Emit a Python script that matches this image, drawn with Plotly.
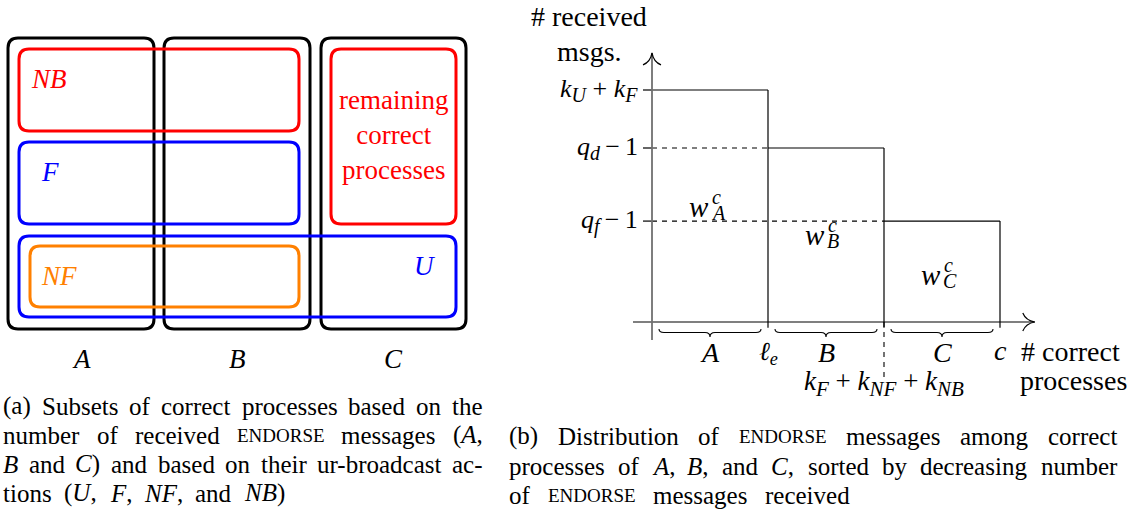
import re
import plotly.graph_objects as go

W, H = 1136, 521
SERIF = "Liberation Serif"
SP = "\u2005"   # medium math space
TH = "\u2009"   # thin space


def sub(t, size=21):
    return f"<sub><span style='font-size:{size}px'><i>{t}</i></span></sub>"


# ---------------- data: left panel (sets of correct processes) ----------------
col_names = ["A", "B", "C"]
set_names = ["NB", "F", "U", "NF", "remaining"]
set_labels = ["<i>NB</i>", "<i>F</i>", "<i>U</i>", "<i>NF</i>", "remaining<br>correct<br>processes"]
set_colors = ["#ff0000", "#0000ff", "#0000ff", "#ff8000", "#ff0000"]

# ---------------- data: right panel (step distribution) ----------------
step_edges = [0, 1, 2, 3]            # boundaries on "# correct processes" axis
step_levels = [4.0, 3.0, 1.74]       # "# received msgs." per group
level_labels = [f"<i>k</i>{sub('U', 20)}{SP}+{SP}<i>k</i>{sub('F', 20)}",
                f"<i>q</i>{sub('d', 20)}{TH}\u2212{TH}1",
                f"<i>q</i>{sub('f', 20)}{TH}\u2212{TH}1"]
group_names = ["A", "B", "C"]
weight_sub = ["A", "B", "C"]
edge_labels = ["<i>\u2113</i><sub><i>e</i></sub>",
               f"<i>k</i>{sub('F')}{SP}+{SP}<i>k</i>{sub('NF')}{SP}+{SP}<i>k</i>{sub('NB')}",
               "<i>c</i>"]

caption_a = ["(a) Subsets of correct processes based on the",
             "number of received {ENDORSE} messages (*A*,",
             "*B* and *C*) and based on their ur-broadcast ac-",
             "tions (*U*, *F*, *NF*, and *NB*)"]
caption_b = ["(b) Distribution of {ENDORSE} messages among correct",
             "processes of *A*, *B*, and *C*, sorted by decreasing number",
             "of {ENDORSE} messages received"]

# ---------------- layout geometry (pixels) ----------------
col_x0 = [8, 164, 321]
col_x1 = [154, 310, 466]
col_y0, col_y1 = 38, 329
set_x0 = [19, 19, 19, 30, 331]
set_x1 = [299, 299, 456, 299, 456]
set_y0 = [49, 142, 236, 246, 49]
set_y1 = [131, 224, 317, 307, 224]
set_lab_x = [30, 40, 436, 40, 393]
set_lab_y = [79, 172, 266, 276, 135]
set_lab_anchor = ["left", "left", "right", "left", "center"]

# right panel axis mapping: data -> pixel
X0PX, UX = 652, 116.0
Y0PX, UY = 322, 58.0
x2_range = [-1.0, 4.0]
y2_range = [-3.0, 5.5]
def px_x(v): return X0PX + v * UX
def px_y(v): return Y0PX - v * UY
x2_dom = [px_x(x2_range[0]) / W, px_x(x2_range[1]) / W]
y2_dom = [(H - px_y(y2_range[0])) / H, (H - px_y(y2_range[1])) / H]
dxu = 1.0 / UX   # one pixel in x2 units
dyu = 1.0 / UY   # one pixel in y2 units


def rrect(x0, y0, x1, y1, r=10):
    return (f"M{x0+r},{y0} L{x1-r},{y0} Q{x1},{y0} {x1},{y0+r} L{x1},{y1-r} "
            f"Q{x1},{y1} {x1-r},{y1} L{x0+r},{y1} Q{x0},{y1} {x0},{y1-r} "
            f"L{x0},{y0+r} Q{x0},{y0} {x0+r},{y0} Z")


shapes = []
annotations = []


def txt(x, y, text, size, xanchor="center", color="black", xref="x", yref="y", **kw):
    annotations.append(dict(xref=xref, yref=yref, x=x, y=y, text=text, showarrow=False,
                            xanchor=xanchor, yanchor="middle", borderpad=0, align="center",
                            font=dict(family=SERIF, size=size, color=color), **kw))


# ---- left panel: column boxes A, B, C
for i, n in enumerate(col_names):
    shapes.append(dict(type="path", xref="x", yref="y",
                       path=rrect(col_x0[i], col_y0, col_x1[i], col_y1),
                       line=dict(color="black", width=3)))
    txt((col_x0[i] + col_x1[i]) / 2, 359, f"<i>{n}</i>", 27)
# ---- left panel: set boxes
for i, n in enumerate(set_names):
    shapes.append(dict(type="path", xref="x", yref="y",
                       path=rrect(set_x0[i], set_y0[i], set_x1[i], set_y1[i]),
                       line=dict(color=set_colors[i], width=3)))
    txt(set_lab_x[i], set_lab_y[i], set_labels[i], 27, xanchor=set_lab_anchor[i], color=set_colors[i])

# ---- right panel: steps
traces = []
xs, ys = [], []
tick_below = -0.1
for i in range(len(step_levels)):
    xs += [step_edges[i], step_edges[i + 1], None, step_edges[i + 1], step_edges[i + 1], None]
    ys += [step_levels[i], step_levels[i], None, step_levels[i], tick_below, None]
    xs += [-9 * dxu, 0, None]
    ys += [step_levels[i], step_levels[i], None]
traces.append(go.Scatter(x=xs, y=ys, xaxis="x2", yaxis="y2", mode="lines",
                         line=dict(color="black", width=1.2), hoverinfo="skip"))
# dashed guides
dx_, dy_ = [], []
for i in range(1, len(step_levels)):
    dx_ += [0, step_edges[i], None]
    dy_ += [step_levels[i], step_levels[i], None]
dx_ += [step_edges[2], step_edges[2], None]
dy_ += [0, -1.0, None]
traces.append(go.Scatter(x=dx_, y=dy_, xaxis="x2", yaxis="y2", mode="lines",
                         line=dict(color="black", width=1.1, dash="5px,5px"), hoverinfo="skip"))

# axes with arrows
x_ax_end = 3.30
y_ax_end = 4.64
traces.append(go.Scatter(x=[-19 * dxu, x_ax_end], y=[0, 0], xaxis="x2", yaxis="y2", mode="lines",
                         line=dict(color="black", width=1.2), hoverinfo="skip"))
traces.append(go.Scatter(x=[0, 0], y=[-18 * dyu, y_ax_end], xaxis="x2", yaxis="y2", mode="lines",
                         line=dict(color="#707070", width=1.8), hoverinfo="skip"))
# arrow heads (open, curved)
tx, ty = x_ax_end, 0
shapes.append(dict(type="path", xref="x2", yref="y2", line=dict(color="black", width=1.2),
                   path=(f"M{tx-12*dxu},{ty+9*dyu} Q{tx-9*dxu},{ty+1.5*dyu} {tx},{ty} "
                         f"Q{tx-9*dxu},{ty-1.5*dyu} {tx-12*dxu},{ty-9*dyu}")))
tx, ty = 0, y_ax_end
shapes.append(dict(type="path", xref="x2", yref="y2", line=dict(color="black", width=1.2),
                   path=(f"M{tx-9*dxu},{ty-12*dyu} Q{tx-1.5*dxu},{ty-9*dyu} {tx},{ty} "
                         f"Q{tx+1.5*dxu},{ty-9*dyu} {tx+9*dxu},{ty-12*dyu}")))

# braces under the x axis
yb0, yb1, yb2 = -7 * dyu, -10.5 * dyu, -15 * dyu
w_y = [1.99, 1.5, 0.81]
for i in range(len(group_names)):
    a = step_edges[i] + 7 * dxu
    b = step_edges[i + 1] - 7 * dxu
    m = (a + b) / 2
    d = 5 * dxu
    shapes.append(dict(type="path", xref="x2", yref="y2", line=dict(color="black", width=1.1),
                       path=(f"M{a},{yb0} Q{a},{yb1} {a+d},{yb1} L{m-d},{yb1} Q{m},{yb1} {m},{yb2} "
                             f"Q{m},{yb1} {m+d},{yb1} L{b-d},{yb1} Q{b},{yb1} {b},{yb0}")))
    txt(m, -30.8 * dyu, f"<i>{group_names[i]}</i>", 28, xref="x2", yref="y2")
    # weights w^c_X
    wy = w_y[i]
    txt(m, wy, "<i>w</i>", 29, xanchor="right", xref="x2", yref="y2")
    txt(m + 1 * dxu, wy + 10 * dyu, "<i>c</i>", 20, xanchor="left", xref="x2", yref="y2")
    txt(m, wy - 6 * dyu, f"<i>{weight_sub[i]}</i>", 20, xanchor="left", xref="x2", yref="y2")

# level labels
for i, lab in enumerate(level_labels):
    txt(-13 * dxu, step_levels[i], lab, 26, xanchor="right", xref="x2", yref="y2")
# edge labels
edge_y = [-31 * dyu, -61 * dyu, -28 * dyu]
edge_size = [26, 27, 28]
for i, lab in enumerate(edge_labels):
    txt(step_edges[i + 1], edge_y[i], lab, edge_size[i], xref="x2", yref="y2")
# axis titles
txt(1020, 351, "# correct", 28, xanchor="left")
txt(1019, 380, "processes", 28, xanchor="left")
txt(589, 16, "# received", 28)
txt(589, 51, "msgs.", 28)

# ---------------- captions (justified) ----------------
TR = {' ': 250, '!': 333, '#': 500, '(': 333, ')': 333, ',': 250, '-': 333, '.': 250,
      'a': 444, 'b': 500, 'c': 444, 'd': 500, 'e': 444, 'f': 333, 'g': 500, 'h': 500, 'i': 278,
      'j': 278, 'k': 500, 'l': 278, 'm': 778, 'n': 500, 'o': 500, 'p': 500, 'q': 500, 'r': 333,
      's': 389, 't': 278, 'u': 500, 'v': 500, 'w': 722, 'x': 500, 'y': 500, 'z': 444,
      'A': 722, 'B': 667, 'C': 667, 'D': 722, 'E': 611, 'F': 556, 'N': 722, 'O': 722,
      'R': 667, 'S': 556, 'U': 722}
TI = {'A': 611, 'B': 611, 'C': 667, 'F': 611, 'N': 667, 'U': 722}
CAP = 25
SC = 19


def tw(s, size, table):
    return sum(table.get(ch, 500) for ch in s) * size / 1000.0


def word_fmt(word):
    html, w = "", 0.0
    for seg in re.findall(r"\*[^*]+\*|\{[^}]+\}|[^*{]+", word):
        if seg.startswith("*"):
            t = seg[1:-1]
            html += f"<i>{t}</i>"
            w += tw(t, CAP, TI)
        elif seg.startswith("{"):
            t = seg[1:-1]
            html += f"<span style='font-size:{SC}px'>{t}</span>"
            w += tw(t, SC, TR)
        else:
            html += seg
            w += tw(seg, CAP, TR)
    return html, w


def add_caption(lines, x0, line_ends, centers):
    for li, line in enumerate(lines):
        yc = centers[li]
        words = line.split(" ")
        fm = [word_fmt(w) for w in words]
        total = sum(w for _, w in fm)
        gap = (line_ends[li] - x0 - total) / (len(words) - 1)
        x = x0
        for html, w in fm:
            txt(x, yc, html, CAP, xanchor="left")
            x += w + gap


add_caption(caption_a, 2, [482, 482, 482, 283], [406, 435, 464, 493])
add_caption(caption_b, 508, [1116, 1116, 849], [436, 466, 495])

fig = go.Figure(traces)
fig.update_layout(
    width=W, height=H, margin=dict(l=0, r=0, t=0, b=0),
    paper_bgcolor="white", plot_bgcolor="rgba(0,0,0,0)", showlegend=False,
    font=dict(family=SERIF),
    xaxis=dict(range=[0, W], domain=[0, 1], visible=False, fixedrange=True),
    yaxis=dict(range=[H, 0], domain=[0, 1], visible=False, fixedrange=True),
    xaxis2=dict(range=x2_range, domain=x2_dom, anchor="y2", visible=False, fixedrange=True),
    yaxis2=dict(range=y2_range, domain=y2_dom, anchor="x2", visible=False, fixedrange=True),
    shapes=shapes, annotations=annotations,
)
fig.write_html("out.html", config={"displayModeBar": False},
               post_script="document.body.style.margin='0';document.body.style.overflow='hidden';")
